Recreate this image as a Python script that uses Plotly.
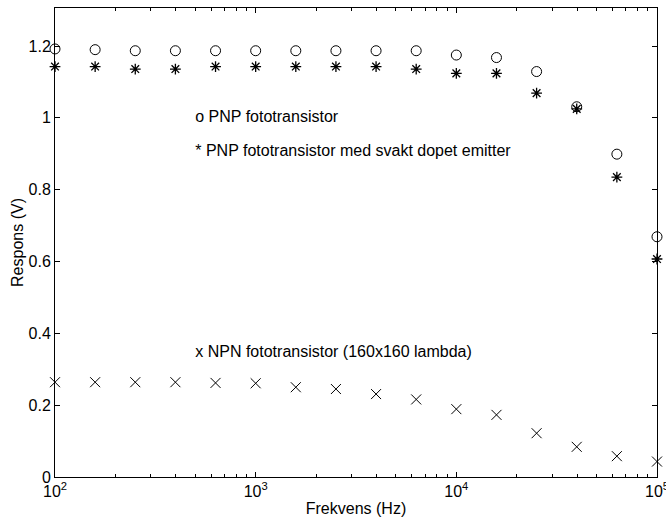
import plotly.graph_objects as go

freq = [100, 158.5, 251.2, 398.1, 631.0, 1000, 1584.9, 2511.9, 3981.1, 6309.6,
        10000, 15849, 25119, 39811, 63096, 100000]
pnp = [1.192, 1.190, 1.187, 1.187, 1.187, 1.187, 1.187, 1.187, 1.187, 1.187,
       1.175, 1.168, 1.129, 1.031, 0.899, 0.669]
pnp_weak = [1.143, 1.143, 1.136, 1.136, 1.143, 1.143, 1.143, 1.143, 1.143, 1.136,
            1.124, 1.124, 1.069, 1.025, 0.835, 0.607]
npn = [0.264, 0.264, 0.264, 0.264, 0.262, 0.261, 0.250, 0.245, 0.231, 0.216,
       0.189, 0.173, 0.122, 0.084, 0.058, 0.043]

labels = ["o PNP fototransistor",
          "* PNP fototransistor med svakt dopet emitter",
          "x NPN fototransistor (160x160 lambda)"]
label_x = [500, 500, 500]
label_y = [1.0, 0.905, 0.345]

yticks = [0, 0.2, 0.4, 0.6, 0.8, 1, 1.2]
ytext = ["0", "0.2", "0.4", "0.6", "0.8", "1", "1.2"]
xticks = [100, 1000, 10000, 100000]
xtext = ["10<sup>2</sup>", "10<sup>3</sup>", "10<sup>4</sup>", "10<sup>5</sup>"]

FONT = "Liberation Sans, Arial, sans-serif"
FS = 16

fig = go.Figure()
fig.add_trace(go.Scatter(x=freq, y=pnp, mode="markers", cliponaxis=False,
                         marker=dict(symbol="circle-open", size=10, color="black",
                                     line=dict(width=1, color="black"))))
fig.add_trace(go.Scatter(x=freq, y=pnp_weak, mode="markers", cliponaxis=False,
                         marker=dict(symbol="asterisk-open", size=9, color="black",
                                     line=dict(width=1.3, color="black"))))
fig.add_trace(go.Scatter(x=freq, y=npn, mode="markers", cliponaxis=False,
                         marker=dict(symbol="x-thin-open", size=10, color="black",
                                     line=dict(width=1, color="black"))))
fig.add_trace(go.Scatter(x=label_x, y=label_y, mode="text", text=labels,
                         textposition="middle right", cliponaxis=False,
                         textfont=dict(family=FONT, size=FS, color="black"),
                         hoverinfo="skip"))

fig.update_layout(
    width=666, height=523,
    margin=dict(l=55, r=9, t=8, b=46),
    paper_bgcolor="white", plot_bgcolor="white",
    showlegend=False,
    font=dict(family=FONT, size=FS, color="black"),
    xaxis=dict(type="log", range=[2, 5], tickvals=xticks, ticktext=xtext,
               ticklabeloverflow="allow", automargin="height",
               ticks="inside", ticklen=5, tickwidth=1, tickcolor="black",
               minor=dict(ticks="inside", ticklen=3, tickcolor="black", dtick="D1",
                          showgrid=False),
               showline=True, linecolor="black", linewidth=1, mirror="ticks",
               showgrid=False, zeroline=False,
               title=dict(text="Frekvens (Hz)", standoff=3,
                          font=dict(family=FONT, size=FS))),
    yaxis=dict(range=[0, 1.306], tickvals=yticks, ticktext=ytext,
               ticks="inside", ticklen=5, tickwidth=1, tickcolor="black",
               showline=True, linecolor="black", linewidth=1, mirror="ticks",
               showgrid=False, zeroline=False,
               title=dict(text="Respons (V)", standoff=0,
                          font=dict(family=FONT, size=FS))),
)

fig.write_html("out.html")
